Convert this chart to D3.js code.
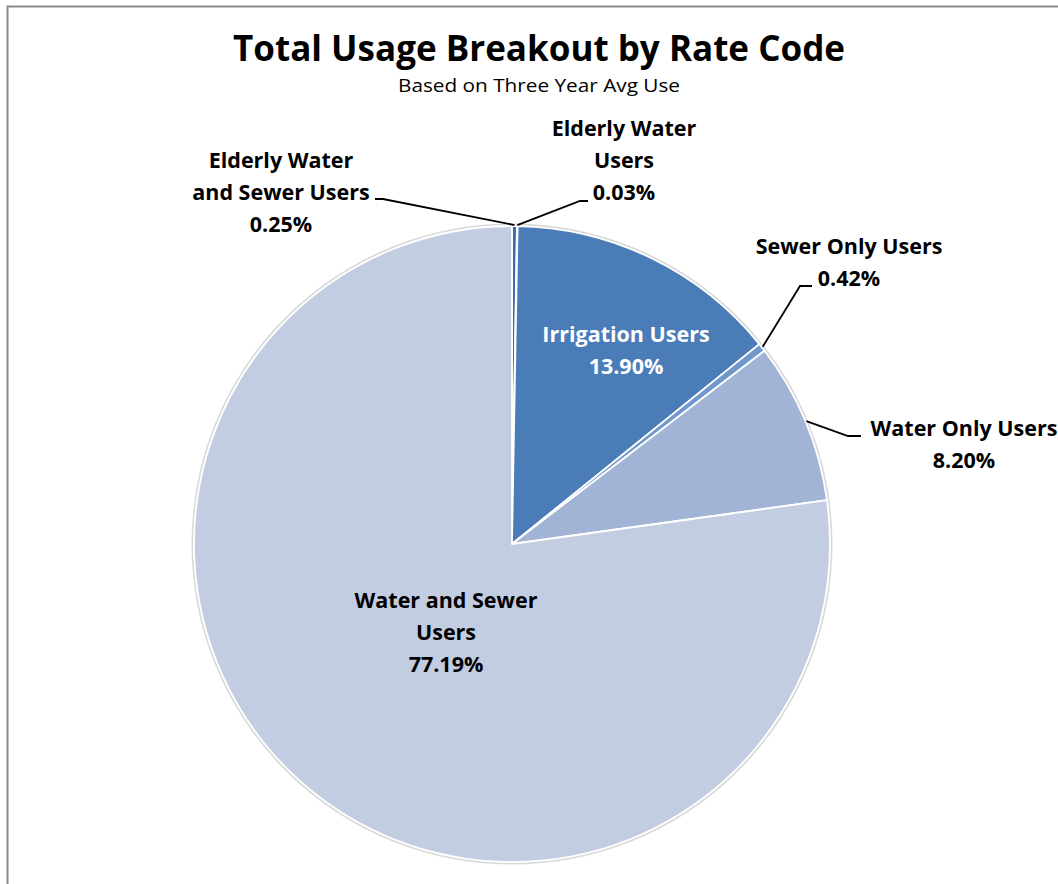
<!DOCTYPE html>
<html>
<head>
<meta charset="utf-8">
<script src="https://cdn.jsdelivr.net/npm/d3@7"></script>
<style>
  body { margin: 0; background: #fff; }
  text { font-family: "Open Sans", "Noto Sans", sans-serif; }
</style>
</head>
<body>
<div id="chart"></div>
<script>
// 数据
const categories = ['Elderly Water and Sewer Users', 'Elderly Water Users', 'Irrigation Users',
                    'Sewer Only Users', 'Water Only Users', 'Water and Sewer Users'];
const values = [0.25, 0.03, 13.90, 0.42, 8.20, 77.19];
const labelLines = [
  ['Elderly Water', 'and Sewer Users'],
  ['Elderly Water', 'Users'],
  ['Irrigation Users'],
  ['Sewer Only Users'],
  ['Water Only Users'],
  ['Water and Sewer', 'Users']
];
const colors = ['#3d6ca8', '#dfe6f1', '#4a7cb7', '#7098cb', '#a2b4d5', '#c3cde2'];

// 布局
const W = 1058, H = 884;
const cx = 512, cy = 544, r = 318;

// 标签位置（中心x、首行基线y）与引线拐点
const labelPos = [
  { x: 281, y: 168, elbow: [383, 199], end: [375, 199] },
  { x: 624, y: 136, elbow: [580, 201], end: [588, 201] },
  { x: 626, y: 342 },
  { x: 849, y: 254, elbow: [800, 286], end: [812, 286] },
  { x: 964, y: 436, elbow: [848, 436], end: [861, 436] },
  { x: 446, y: 608 }
];

const svg = d3.select('#chart').append('svg')
  .attr('width', W).attr('height', H);

// 外框
svg.append('rect')
  .attr('x', 7.5).attr('y', 6.5)
  .attr('width', W + 20).attr('height', H + 20)
  .attr('fill', 'none')
  .attr('stroke', '#8c8c8c')
  .attr('stroke-width', 2);

// 标题
svg.append('text')
  .attr('x', 539).attr('y', 61)
  .attr('text-anchor', 'middle')
  .style('font-size', '35px')
  .style('font-weight', 'bold')
  .attr('textLength', 612)
  .attr('lengthAdjust', 'spacingAndGlyphs')
  .text('Total Usage Breakout by Rate Code');

svg.append('text')
  .attr('x', 539).attr('y', 92)
  .attr('text-anchor', 'middle')
  .style('font-size', '18.5px')
  .attr('textLength', 282)
  .attr('lengthAdjust', 'spacingAndGlyphs')
  .text('Based on Three Year Avg Use');

// 饼图
const pie = d3.pie().sort(null).value(d => d);
const arcs = pie(values);
const arc = d3.arc().innerRadius(0).outerRadius(r);

const g = svg.append('g').attr('transform', `translate(${cx},${cy})`);

// 阴影边
g.append('circle')
  .attr('r', r + 1.5)
  .attr('fill', 'none')
  .attr('stroke', '#d9d9d9')
  .attr('stroke-width', 2);

g.selectAll('path.slice')
  .data(arcs)
  .enter()
  .append('path')
  .attr('class', 'slice')
  .attr('d', arc)
  .attr('fill', (d, i) => colors[i])
  .attr('stroke', '#fff')
  .attr('stroke-width', 1.8)
  .attr('stroke-linejoin', 'round');

// 引线
arcs.forEach((d, i) => {
  const p = labelPos[i];
  if (!p.elbow) return;
  const mid = (d.startAngle + d.endAngle) / 2;
  const sx = cx + Math.sin(mid) * (r + 1);
  const sy = cy - Math.cos(mid) * (r + 1);
  svg.append('polyline')
    .attr('points', [[sx, sy], p.elbow, p.end].map(q => q.join(',')).join(' '))
    .attr('fill', 'none')
    .attr('stroke', '#000')
    .attr('stroke-width', 1.8);
});

// 标签
const lineH = 32;
arcs.forEach((d, i) => {
  const p = labelPos[i];
  const lines = labelLines[i].concat([values[i].toFixed(2) + '%']);
  const t = svg.append('text')
    .attr('text-anchor', 'middle')
    .style('font-size', '21.5px')
    .style('font-weight', 'bold')
    .style('fill', i === 2 ? '#fff' : '#000');
  lines.forEach((s, k) => {
    t.append('tspan')
      .attr('x', p.x)
      .attr('y', p.y + k * lineH)
      .text(s);
  });
});
</script>
</body>
</html>
